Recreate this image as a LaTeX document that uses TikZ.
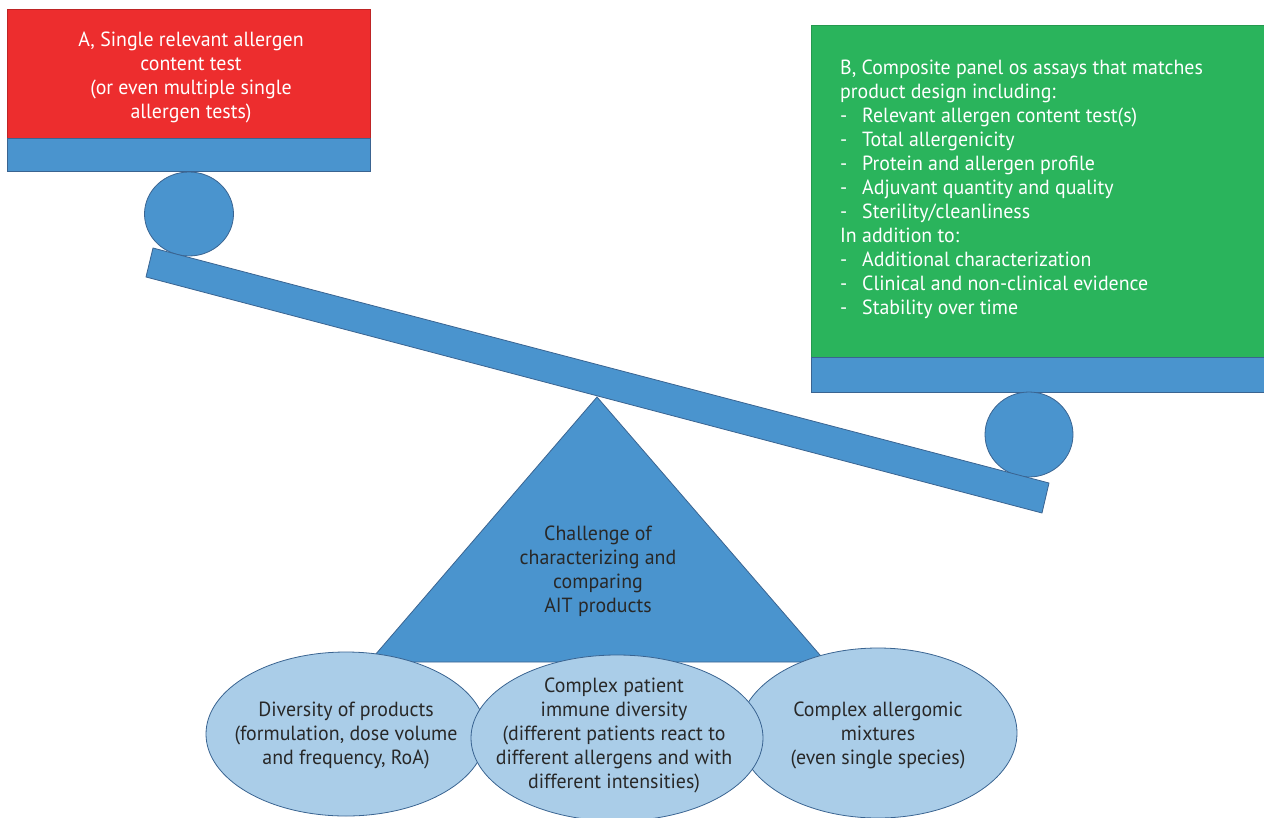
\documentclass[tikz,border=0pt]{standalone}
\usepackage{fontspec}
\setmainfont[FakeStretch=0.97]{PT Sans}
\usetikzlibrary{shapes.geometric}
\definecolor{myred}{RGB}{237,45,46}
\definecolor{mygreen}{RGB}{42,180,92}
\definecolor{myblue}{RGB}{74,148,206}
\definecolor{blueline}{RGB}{58,100,145}
\definecolor{lightblue}{RGB}{170,205,232}
\definecolor{textdark}{RGB}{40,40,40}
\begin{document}
\begin{tikzpicture}[x=1pt,y=-1pt,
  txt/.style={font=\fontsize{20.5}{24}\selectfont, inner sep=0pt},
  bluepart/.style={fill=myblue, draw=blueline, line width=0.8pt},
  oval/.style={ellipse, fill=lightblue, draw=blueline, line width=0.8pt, inner sep=0pt},
  ovaltext/.style={txt, text=textdark, align=center},
  ball/.style={ellipse, fill=myblue, draw=blueline, line width=0.8pt, inner sep=0pt}
]
\useasboundingbox (0,0) rectangle (1264,817);
% left pan
\draw[fill=myred, draw=myred!80!black, line width=0.6pt] (7,9) rectangle (370,138);
\draw[bluepart] (7,138) rectangle (370,171);
\node[txt, text=white, align=center] (ta) at (191,77) {A, Single relevant allergen\\content test\\(or even multiple single\\allergen tests)};
% right pan
\draw[fill=mygreen, draw=mygreen!85!black, line width=0.6pt] (811,25) rectangle (1264,357);
\draw[bluepart] (811,357) rectangle (1264,392);
\node[txt, text=white, align=left, anchor=north west] (tb) at (840,59.5) {B, Composite panel os assays that matches\\product design including:\\
\makebox[22pt][l]{-}Relevant allergen content test(s)\\
\makebox[22pt][l]{-}Total allergenicity\\
\makebox[22pt][l]{-}Protein and allergen profile\\
\makebox[22pt][l]{-}Adjuvant quantity and quality\\
\makebox[22pt][l]{-}Sterility/cleanliness\\
In addition to:\\
\makebox[22pt][l]{-}Additional characterization\\
\makebox[22pt][l]{-}Clinical and non-clinical evidence\\
\makebox[22pt][l]{-}Stability over time};
% balls
\node[ball, minimum width=89pt, minimum height=84pt] (c1) at (189,214) {};
\node[ball, minimum width=88pt, minimum height=85pt] (c2) at (1029,434.5) {};
% beam
\draw[bluepart] (153,248) -- (1049,483) -- (1042,513) -- (146,277) -- cycle;
% fulcrum
\draw[bluepart] (597,397) -- (826,662) -- (369,662) -- cycle;
\node[txt, text=textdark, align=center] (tc) at (598,571) {Challenge of\\characterizing and\\comparing\\AIT products};
% ovals
\node[oval, minimum width=280pt, minimum height=164pt] (e1) at (346,734) {};
\node[oval, minimum width=278pt, minimum height=170pt] (e3) at (878,733) {};
\node[oval, minimum width=292pt, minimum height=166pt] (e2) at (617,738) {};
\node[ovaltext] (t1) at (346,735) {Diversity of products\\(formulation, dose volume\\and frequency, RoA)};
\node[ovaltext] (t3) at (878,735) {Complex allergomic\\mixtures\\(even single species)};
\node[ovaltext] (t2) at (614,735) {Complex patient\\immune diversity\\(different patients react to\\different allergens and with\\different intensities)};
\end{tikzpicture}
\end{document}
